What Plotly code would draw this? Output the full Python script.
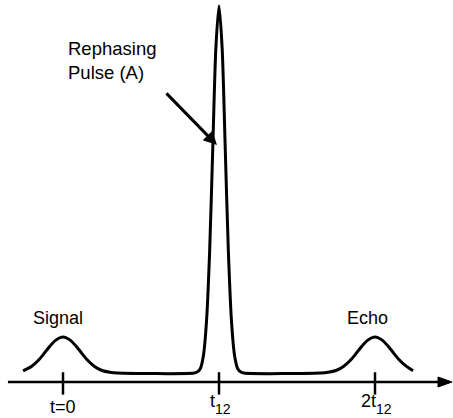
import plotly.graph_objects as go

# ---- data ----
curve_t = [-0.256, -0.2, -0.15, -0.1, -0.05, 0.0, 0.05, 0.1, 0.15, 0.2, 0.25, 0.3, 0.35,
           0.84, 0.86, 0.88, 0.9, 0.92, 0.94, 0.96, 0.98, 1.0, 1.02, 1.04, 1.06, 1.08, 1.1, 1.12, 1.14, 1.16,
           1.65, 1.7, 1.75, 1.8, 1.85, 1.9, 1.95, 2.0, 2.05, 2.1, 2.15, 2.2, 2.244]
curve_y = [0.06, 0.19, 0.39, 0.66, 0.9, 1.0, 0.9, 0.66, 0.39, 0.19, 0.07, 0.02, 0.0,
           0.0, 0.03, 0.12, 0.48, 1.44, 3.38, 6.24, 9.03, 10.2, 9.03, 6.24, 3.38, 1.44, 0.48, 0.12, 0.03, 0.0,
           0.0, 0.02, 0.07, 0.19, 0.39, 0.66, 0.9, 1.0, 0.9, 0.66, 0.39, 0.19, 0.06]

tick_vals = [0, 1, 2]
tick_main = ["t=0", "t", "2t"]
tick_sub = ["", "12", "12"]

axis_y = -0.25
axis_start = -0.353
axis_end = 2.404
axis_tip = 2.494
head_half = 0.139

Y_MIN, Y_MAX = -1.25, 10.361
FONT = "Liberation Sans, Arial, sans-serif"

fig = go.Figure()

fig.add_trace(go.Scatter(
    x=curve_t, y=curve_y, mode="lines",
    line=dict(color="black", width=3, shape="spline", smoothing=0.8),
    hoverinfo="skip", showlegend=False,
))

# tick marks crossing the axis
fig.add_trace(go.Scatter(
    x=tick_vals, y=[axis_y - 0.04] * len(tick_vals), mode="markers",
    marker=dict(symbol="line-ns-open", size=16, color="black",
                line=dict(color="black", width=2.5)),
    hoverinfo="skip", showlegend=False,
))

shapes = [
    dict(type="line", xref="x", yref="y", x0=axis_start, x1=axis_end, y0=axis_y, y1=axis_y,
         line=dict(color="black", width=2.5)),
    dict(type="path", xref="x", yref="y",
         path=f"M {axis_end},{axis_y + head_half} L {axis_tip},{axis_y} L {axis_end},{axis_y - head_half} Z",
         fillcolor="black", line=dict(color="black", width=1)),
]

annotations = []
# tick labels: main text plus a lowered, smaller subscript
MAIN_SIZE, SUB_SIZE = 18, 14
for v, main, sub in zip(tick_vals, tick_main, tick_sub):
    if not sub:
        annotations.append(dict(x=v, y=-0.95, xref="x", yref="y", text=main, showarrow=False,
                                xanchor="center", yanchor="middle",
                                font=dict(family=FONT, size=MAIN_SIZE, color="black")))
    else:
        main_w = 5.0 if main == "t" else 15.0
        sub_w = 15.6
        total = main_w + sub_w
        main_shift = -total / 2 + main_w / 2 + 1.5
        sub_shift = total / 2 - sub_w / 2 + 1.5
        annotations.append(dict(x=v, y=-0.78, xref="x", yref="y", text=main, showarrow=False,
                                xanchor="center", yanchor="middle", xshift=main_shift,
                                font=dict(family=FONT, size=MAIN_SIZE, color="black")))
        annotations.append(dict(x=v, y=Y_MIN, xref="x", yref="y", text=sub, showarrow=False,
                                xanchor="center", yanchor="bottom", xshift=sub_shift, borderpad=0,
                                font=dict(family=FONT, size=SUB_SIZE, color="black")))

annotations += [
    dict(x=-0.032, y=1.53, xref="x", yref="y", text="Signal", showarrow=False,
         xanchor="center", yanchor="middle", font=dict(family=FONT, size=18, color="black")),
    dict(x=1.949, y=1.53, xref="x", yref="y", text="Echo", showarrow=False,
         xanchor="center", yanchor="middle", font=dict(family=FONT, size=18, color="black")),
    dict(x=0.02, y=8.69, xref="x", yref="y", text="Rephasing<br>Pulse (A)", showarrow=False,
         xanchor="left", yanchor="middle", align="left",
         font=dict(family=FONT, size=18.5, color="black")),
    dict(x=0.987, y=6.33, xref="x", yref="y", ax=0.654, ay=7.81, axref="x", ayref="y",
         text="", showarrow=True, arrowhead=2, arrowsize=0.9, arrowwidth=3, arrowcolor="black",
         standoff=0, startstandoff=0),
]

fig.update_layout(
    width=453, height=418,
    margin=dict(l=0, r=0, t=0, b=0),
    paper_bgcolor="white", plot_bgcolor="white",
    xaxis=dict(range=[-0.40385, 2.5], visible=False, fixedrange=True),
    yaxis=dict(range=[Y_MIN, Y_MAX], visible=False, fixedrange=True),
    shapes=shapes, annotations=annotations,
    showlegend=False,
)

fig.write_html("out.html", config={"displayModeBar": False},
               post_script="document.body.style.margin='0';document.body.style.overflow='hidden';")
